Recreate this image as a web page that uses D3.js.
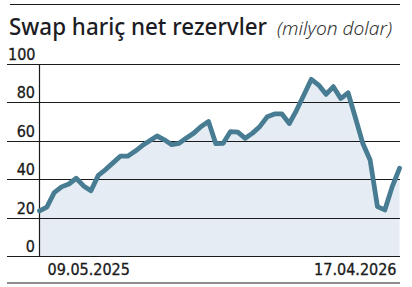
<!DOCTYPE html>
<html>
<head>
<meta charset="utf-8">
<script src="https://cdn.jsdelivr.net/npm/d3@7"></script>
<style>
  body { margin: 0; background: #fff; }
  svg { display: block; }
</style>
</head>
<body>
<svg id="chart" width="412" height="287"></svg>
<script>
// weekly net reserves excluding swaps
const startDate = "2025-05-09";
const endDate = "2026-04-17";
const values = [
  23.5, 25.5, 33, 36, 37.5, 40.5, 36.5, 34, 42, 45,
  48.5, 52, 52, 54.5, 57.5, 60, 62.5, 60.5, 58, 58.7,
  61.5, 64, 67.5, 70, 58.5, 58.7, 64.8, 64.5, 61.3, 64,
  67.5, 72.5, 74, 74, 69, 76, 84, 92, 89, 84.2,
  88.2, 82, 85, 72, 58.7, 50, 25.7, 24, 36, 45.7
];
const yTicks = [0, 20, 40, 60, 80, 100];
const xLabels = ["09.05.2025", "17.04.2026"];
const title = "Swap hariç net rezervler";
const unit = "(milyon dolar)";

const parse = d3.timeParse("%Y-%m-%d");
const t0 = parse(startDate);
const data = values.map((v, i) => ({ date: d3.timeDay.offset(t0, i * 7), value: v }));

const svg = d3.select("#chart");
const plotLeft = 39.5, plotRight = 400, plotTop = 64, plotBottom = 256;
const labelFont = "'Liberation Sans Narrow', 'DejaVu Sans Condensed', sans-serif";

const x = d3.scaleTime()
  .domain([t0, parse(endDate)])
  .range([plotLeft, plotRight - 0.5]);
const y = d3.scaleLinear().domain([0, 100]).range([plotBottom, plotTop]);

// top rule and title
svg.append("line").attr("x1", 10).attr("x2", 400).attr("y1", 4.5).attr("y2", 4.5)
  .attr("stroke", "#1a1a1a").attr("stroke-width", 1.2);

svg.append("text").attr("x", 9).attr("y", 35)
  .attr("font-family", "'Noto Sans', sans-serif").attr("font-size", 23)
  .attr("font-weight", 500).attr("fill", "#1c1c24")
  .attr("textLength", 258).attr("lengthAdjust", "spacingAndGlyphs")
  .text(title);
svg.append("text").attr("x", 277).attr("y", 35)
  .attr("font-family", "'Noto Sans', sans-serif").attr("font-size", 18)
  .attr("font-style", "italic").attr("font-weight", 300).attr("fill", "#333")
  .attr("textLength", 115).attr("lengthAdjust", "spacingAndGlyphs")
  .text(unit);

// area
svg.append("path").datum(data)
  .attr("fill", "#e6ecf3")
  .attr("d", d3.area().x(d => x(d.date)).y0(y(0)).y1(d => y(d.value)));

// gridlines
svg.append("g").selectAll("line").data(yTicks).join("line")
  .attr("x1", 7).attr("x2", 400)
  .attr("y1", d => Math.round(y(d)) + 0.5).attr("y2", d => Math.round(y(d)) + 0.5)
  .attr("stroke", "#1a1a1a").attr("stroke-width", 1.2);

svg.append("line").attr("x1", plotLeft).attr("x2", plotLeft).attr("y1", y(100)).attr("y2", y(0))
  .attr("stroke", "#1a1a1a").attr("stroke-width", 1.2);

// line
svg.append("path").datum(data)
  .attr("fill", "none").attr("stroke", "#477c93").attr("stroke-width", 4.8)
  .attr("stroke-linejoin", "round").attr("stroke-linecap", "round")
  .attr("d", d3.line().x(d => x(d.date)).y(d => y(d.value)));

// y labels
svg.append("g").selectAll("text").data(yTicks).join("text")
  .attr("x", d => d === 100 ? 8 : 35)
  .attr("text-anchor", d => d === 100 ? "start" : "end")
  .attr("y", d => y(d) - 4)
  .attr("font-family", labelFont).attr("font-size", 16).attr("fill", "#1a1a1a")
  .attr("stroke", "#1a1a1a").attr("stroke-width", 0.3)
  .text(d => d);

// x labels
svg.append("text").attr("x", x(data[0].date) + 8).attr("y", 275)
  .attr("font-family", labelFont).attr("font-size", 16).attr("fill", "#1a1a1a")
  .attr("stroke", "#1a1a1a").attr("stroke-width", 0.3)
  .text(xLabels[0]);
svg.append("text").attr("x", x(data[data.length - 1].date) - 3).attr("y", 275)
  .attr("text-anchor", "end")
  .attr("font-family", labelFont).attr("font-size", 16).attr("fill", "#1a1a1a")
  .attr("stroke", "#1a1a1a").attr("stroke-width", 0.3)
  .text(xLabels[1]);

// bottom rule
svg.append("line").attr("x1", 7).attr("x2", 400).attr("y1", 283).attr("y2", 283)
  .attr("stroke", "#1a1a1a").attr("stroke-width", 1.2);
</script>
</body>
</html>
